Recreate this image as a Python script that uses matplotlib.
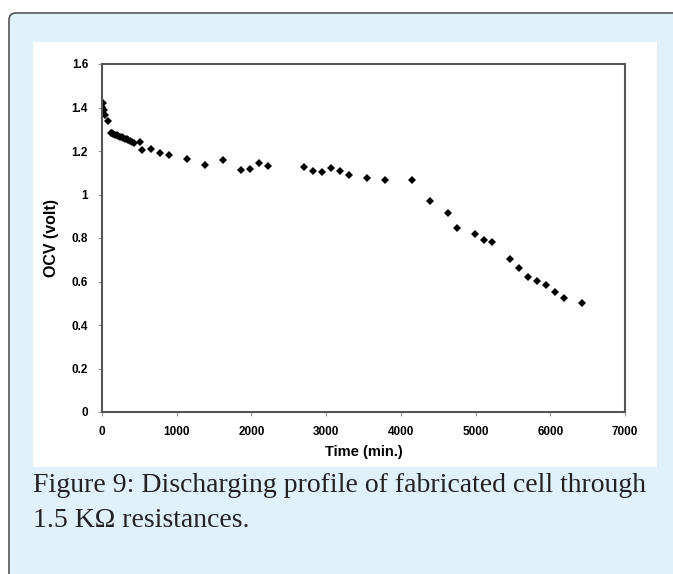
import matplotlib
matplotlib.use("Agg")
import matplotlib.pyplot as plt
from matplotlib.patches import Rectangle, PathPatch
from matplotlib.path import Path

time_min = [0, 9, 27, 45, 85, 116, 135, 152, 175, 196, 218, 241, 263, 285, 308, 330, 352, 375, 400, 428, 509,
            540, 660, 781, 901, 1142, 1383, 1624, 1865, 1985, 2105, 2226,
            2708, 2828, 2949, 3065, 3185, 3306, 3547, 3788, 4145,
            4386, 4627, 4747, 4988, 5109, 5224, 5465, 5585, 5706, 5826, 5947, 6067, 6188, 6429]
ocv_volt = [1.404, 1.419, 1.389, 1.366, 1.339, 1.284, 1.281, 1.278, 1.275, 1.272, 1.269, 1.266, 1.263, 1.260,
            1.257, 1.254, 1.250, 1.247, 1.243, 1.238, 1.241,
            1.203, 1.209, 1.189, 1.182, 1.165, 1.134, 1.157, 1.114, 1.119, 1.146, 1.131,
            1.126, 1.108, 1.103, 1.120, 1.109, 1.090, 1.076, 1.067, 1.067,
            0.971, 0.914, 0.847, 0.820, 0.789, 0.780, 0.703, 0.662, 0.622, 0.602, 0.583, 0.552, 0.523, 0.503]

x_ticks = [0, 1000, 2000, 3000, 4000, 5000, 6000, 7000]
y_ticks = [0, 0.2, 0.4, 0.6, 0.8, 1.0, 1.2, 1.4, 1.6]
y_tick_labels = ["0", "0.2", "0.4", "0.6", "0.8", "1", "1.2", "1.4", "1.6"]

W, H = 673, 574
fig = plt.figure(figsize=(W / 100, H / 100), dpi=100)
fig.patch.set_facecolor("white")


def fx(px):
    return px / W


def fy(py):
    return 1 - py / H


bg = "#E0F1FB"
fig.patches.append(Rectangle((fx(9), 0), 1 - fx(9), fy(13), transform=fig.transFigure,
                             facecolor=bg, edgecolor="none", zorder=0))
r = 7
verts = [(fx(9), fy(H + 2)), (fx(9), fy(13 + r)), (fx(9), fy(13)), (fx(9 + r), fy(13)), (fx(W + 2), fy(13))]
codes = [Path.MOVETO, Path.LINETO, Path.CURVE3, Path.CURVE3, Path.LINETO]
fig.patches.append(PathPatch(Path(verts, codes), transform=fig.transFigure, facecolor="none",
                             edgecolor="#555555", linewidth=1.2, zorder=1))
fig.patches.append(Rectangle((fx(33), fy(467)), (657 - 33) / W, (467 - 42) / H,
                             transform=fig.transFigure, facecolor="white", edgecolor="none", zorder=1))

ax = fig.add_axes([fx(102), fy(412), (625 - 102) / W, (412 - 64) / H])
ax.set_zorder(2)
ax.set_facecolor("white")
ax.plot(time_min, ocv_volt, linestyle="none", marker="D", markersize=4.3,
        color="black", markeredgewidth=0)
ax.set_xlim(0, 7000)
ax.set_ylim(0, 1.6)
ax.set_xticks(x_ticks)
ax.set_yticks(y_ticks)
ax.set_yticklabels(y_tick_labels)
for s in ax.spines.values():
    s.set_color("#555555")
    s.set_linewidth(1.5)
ax.tick_params(axis="both", direction="out", length=3, width=0.8, color="#999999",
               labelsize=8.5, pad=7)
for lab in ax.get_xticklabels() + ax.get_yticklabels():
    lab.set_fontweight("bold")
    lab.set_family("Liberation Sans")
ax.set_xlabel("Time (min.)", fontsize=10.5, fontweight="bold", family="Liberation Sans", labelpad=5)
ax.set_ylabel("OCV (volt)", fontsize=11.5, fontweight="bold", family="Liberation Sans", labelpad=9)

fig.text(fx(33), fy(492), "Figure 9: Discharging profile of fabricated cell through",
         fontsize=20, family="Liberation Serif", color="#222222", va="baseline", zorder=3)
fig.text(fx(33), fy(527), "1.5 KΩ resistances.",
         fontsize=20, family="Liberation Serif", color="#222222", va="baseline", zorder=3)

fig.savefig("out.png", dpi=100)
